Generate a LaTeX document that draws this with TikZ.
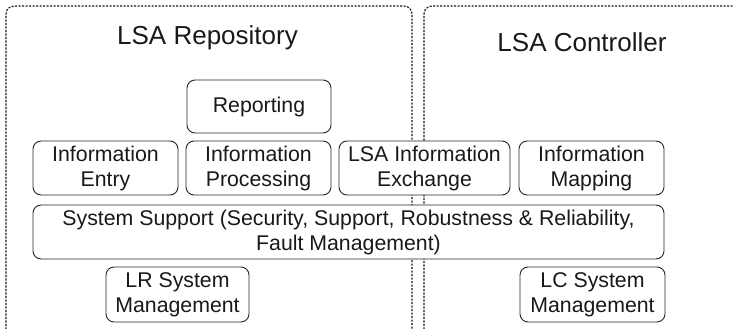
\documentclass[tikz,border=0pt]{standalone}
\usepackage{fontspec}
\setmainfont{Liberation Sans}
\begin{document}
\begin{tikzpicture}[x=1pt,y=-1pt,
  ink/.style={text=black!90},
  region/.style={draw=black!90, line width=1.1pt, dash pattern=on 2.2pt off 1.3pt, rounded corners=8pt},
  title/.style={ink, font=\fontsize{26}{29}\selectfont, anchor=base},
  block/.style={draw=black!85, fill=white, line width=0.9pt, rounded corners=8pt,
    ink, font=\fontsize{21.3}{25}\selectfont, align=center, inner sep=0pt}]
\useasboundingbox (0,0) rectangle (733,329);
% two dashed regions
\draw[region] (6,333) -- (6,6) -- (412,6) -- (412,333);
\draw[region] (424,333) -- (424,6) -- (745,6);
\node[title] (repo) at (207.5,45) {LSA Repository};
\node[title] (ctrl) at (582,52) {LSA Controller};
% functional blocks
\node[block, minimum width=144pt, minimum height=53pt] (rep) at (259,106.5) {Reporting};
\node[block, minimum width=145pt, minimum height=54pt] (entry) at (105.5,168) {Information\\Entry};
\node[block, minimum width=145pt, minimum height=54pt] (proc) at (258.5,168) {Information\\Processing};
\node[block, minimum width=171pt, minimum height=54pt] (exch) at (424.5,168) {LSA Information\\Exchange};
\node[block, minimum width=145pt, minimum height=54pt] (map) at (591.5,168) {Information\\Mapping};
\node[block, minimum width=631pt, minimum height=54pt] (sys) at (348.5,232) {System Support (Security, Support, Robustness \& Reliability,\\Fault Management)};
\node[block, minimum width=143pt, minimum height=55pt] (lr) at (177.5,294.5) {LR System\\Management};
\node[block, minimum width=145pt, minimum height=55pt] (lc) at (592.5,294.5) {LC System\\Management};
\end{tikzpicture}
\end{document}
